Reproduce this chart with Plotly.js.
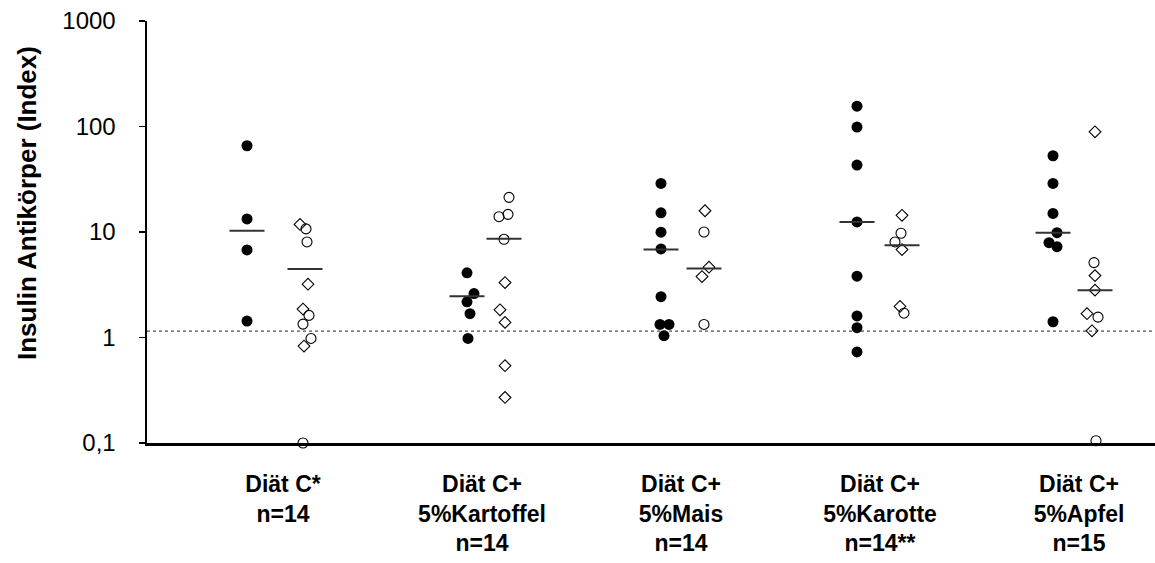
<!DOCTYPE html>
<html>
<head>
<meta charset="utf-8">
<script src="https://cdn.plot.ly/plotly-3.0.1.min.js"></script>
<style>
  html, body { margin: 0; padding: 0; background: #fff; }
  #chart { width: 1155px; height: 563px; }
</style>
</head>
<body>
<div id="chart"></div>
<script>
// ---------------- data ----------------
const categories = [
  'Diät C*<br>n=14',
  'Diät C+<br>5%Kartoffel<br>n=14',
  'Diät C+<br>5%Mais<br>n=14',
  'Diät C+<br>5%Karotte<br>n=14**',
  'Diät C+<br>5%Apfel<br>n=15'
];
const filledValues = [
  [65.7, 13.3, 6.76, 1.43],
  [4.10, 2.61, 2.18, 1.68, 0.98],
  [28.9, 15.2, 9.95, 6.91, 2.44, 1.33, 1.33, 1.04],
  [156, 98.7, 43.1, 12.45, 3.81, 1.60, 1.24, 0.73],
  [52.8, 28.9, 15.0, 9.86, 7.93, 7.26, 1.41]
];
const openCircleValues = [
  [10.7, 8.05, 1.62, 1.34, 0.98, 0.1],
  [21.3, 14.7, 13.97, 8.53],
  [10.0, 1.33],
  [9.73, 8.05, 1.70],
  [5.13, 1.56, 0.105]
];
const openDiamondValues = [
  [11.8, 3.2, 1.86, 0.83],
  [3.32, 1.83, 1.39, 0.54, 0.27],
  [15.9, 4.64, 3.78, 0.096],
  [14.4, 6.81, 1.97],
  [89.1, 3.86, 2.81, 1.68, 1.157]
];
const filledMedians = [10.3, 2.46, 6.81, 12.45, 9.86];
const openMedians = [4.47, 8.65, 4.50, 7.5, 2.81];
const thresholdValue = 1.15;
const yTickValues = [0.1, 1, 10, 100, 1000];
const yTickLabels = ['0,1', '1', '10', '100', '1000'];

// ---------------- placement (layout only) ----------------
const PX_PER_CAT = 199;
const filledShift = [-36, -15, -20, -23, -26];
const openShift = [22, 22, 23, 22, 16];
const filledNudge = [
  [0, 0, 0, 0],
  [0, 7, 0, 3, 1],
  [0, 0, 0, 0, 0, -1, 8, 3],
  [0, 0, 0, 0, 0, 0, 0, 0],
  [0, 0, 0, 4, -4, 4, 0]
];
const circleNudge = [
  [1, 2, 4, -2, 6, -2],
  [5, 4, -5, 0],
  [0, 0],
  [-1, -7, 2],
  [-1, 3, 1]
];
const diamondNudge = [
  [-5, 3, -2, -1],
  [1, -4, 1, 1, 1],
  [1, 5, -2, 0],
  [0, 0, -2],
  [0, 0, 0, -8, -3]
];

function buildXY(values, shifts, nudges) {
  const x = [], y = [];
  values.forEach((arr, g) => {
    arr.forEach((v, i) => {
      x.push(g + (shifts[g] + nudges[g][i]) / PX_PER_CAT);
      y.push(v);
    });
  });
  return {x, y};
}

const f = buildXY(filledValues, filledShift, filledNudge);
const c = buildXY(openCircleValues, openShift, circleNudge);
const d = buildXY(openDiamondValues, openShift, diamondNudge);

const traces = [
  {
    type: 'scatter', mode: 'markers', name: 'offen (Kreis)', x: c.x, y: c.y,
    cliponaxis: false,
    marker: {symbol: 'circle-open', size: 10, color: '#000', line: {width: 1.1, color: '#000'}}
  },
  {
    type: 'scatter', mode: 'markers', name: 'offen (Raute)', x: d.x, y: d.y,
    cliponaxis: false,
    marker: {symbol: 'diamond-open', size: 9, color: '#000', line: {width: 1.1, color: '#000'}}
  },
  {
    type: 'scatter', mode: 'markers', name: 'gefüllt', x: f.x, y: f.y,
    cliponaxis: false,
    marker: {symbol: 'circle', size: 11, color: '#000', line: {width: 0}}
  },
  {
    type: 'scatter', mode: 'markers', name: 'Median gefüllt',
    x: filledMedians.map((v, g) => g + filledShift[g] / PX_PER_CAT), y: filledMedians,
    cliponaxis: false,
    marker: {symbol: 'line-ew', size: 25, color: '#333', line: {width: 2, color: '#333'}}
  },
  {
    type: 'scatter', mode: 'markers', name: 'Median offen',
    x: openMedians.map((v, g) => g + openShift[g] / PX_PER_CAT), y: openMedians,
    cliponaxis: false,
    marker: {symbol: 'line-ew', size: 25, color: '#333', line: {width: 2, color: '#333'}}
  }
];

const leftPx = 147, rightPx = 1155, firstCenterPx = 283;
const layout = {
  width: 1155, height: 563,
  margin: {l: leftPx, r: 0, t: 21, b: 120},
  paper_bgcolor: '#fff', plot_bgcolor: '#fff',
  showlegend: false,
  font: {family: '"Liberation Sans", Arial, sans-serif', color: '#000'},
  xaxis: {
    range: [(leftPx - firstCenterPx) / PX_PER_CAT, (rightPx - firstCenterPx) / PX_PER_CAT],
    tickmode: 'array',
    tickvals: categories.map((_, i) => i),
    ticktext: categories,
    ticks: '',
    showgrid: false, zeroline: false,
    showline: true, linecolor: '#000', linewidth: 3,
    tickfont: {size: 23, weight: 'bold', color: '#000'},
    ticklabelstandoff: 18,
    fixedrange: true
  },
  yaxis: {
    type: 'log',
    range: [-1, 3],
    tickmode: 'array',
    tickvals: yTickValues,
    ticktext: yTickLabels,
    ticks: 'outside', ticklen: 6, tickwidth: 1.5, tickcolor: '#000',
    showgrid: false, zeroline: false,
    showline: true, linecolor: '#000', linewidth: 2.5,
    tickfont: {size: 24, color: '#000'},
    ticklabelstandoff: 18,
    fixedrange: true
  },
  shapes: [{
    type: 'line', xref: 'paper', x0: 0, x1: 1, yref: 'y', y0: thresholdValue, y1: thresholdValue,
    line: {color: '#222', width: 1, dash: 'dot'}
  }],
  annotations: [{
    text: 'Insulin Antikörper (Index)',
    xref: 'paper', yref: 'paper',
    x: (27 - leftPx) / (rightPx - leftPx), y: (443 - 203) / 422,
    xanchor: 'center', yanchor: 'middle',
    textangle: -90, showarrow: false,
    font: {size: 26, weight: 'bold', color: '#000'}
  }]
};

Plotly.newPlot('chart', traces, layout, {staticPlot: true, displayModeBar: false});
</script>
</body>
</html>
